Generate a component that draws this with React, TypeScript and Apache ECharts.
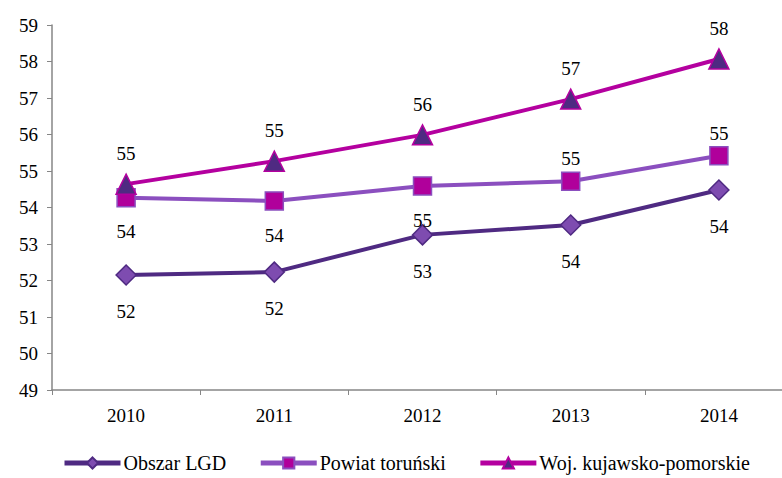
import React, { useEffect, useRef } from "react";
import * as echarts from "echarts";

const years = ["2010", "2011", "2012", "2013", "2014"];
const obszarLGD = [52.15, 52.23, 53.25, 53.52, 54.48];
const powiatTorunski = [54.27, 54.18, 54.59, 54.72, 55.42];
const wojKujawsko = [54.64, 55.27, 55.99, 56.97, 58.07];

const lgdLabelPos = ["bottom", "bottom", "bottom", "bottom", "bottom"];
const powiatLabelPos = ["bottom", "bottom", "bottom", "top", "top"];
const wojLabelPos = ["top", "top", "top", "top", "top"];

const FONT = "Times New Roman, Liberation Serif, DejaVu Serif, serif";

function buildData(values: number[], positions: string[], distTop: number, distBottom: number) {
  return values.map((v, i) => ({
    value: v,
    label: { position: positions[i], distance: positions[i] === "top" ? distTop : distBottom },
  }));
}

export default function App() {
  const ref = useRef<HTMLDivElement>(null);
  useEffect(() => {
    if (!ref.current) return;
    const chart = echarts.init(ref.current, null, { renderer: "svg" });
    const labelBase = {
      show: true,
      fontFamily: FONT,
      fontSize: 19,
      color: "#000",
      formatter: (p: any) => String(Math.round(p.value)),
    };
    chart.setOption({
      animation: false,
      textStyle: { fontFamily: FONT },
      grid: { left: 52, width: 741, top: 25, bottom: 88, outerBoundsMode: "none", containLabel: false },
      legend: {
        bottom: 0,
        left: 57,
        itemWidth: 56,
        itemHeight: 14,
        itemGap: 32,
        lineStyle: { width: 5 },
        textStyle: { fontFamily: FONT, fontSize: 20, color: "#000", padding: [0, 0, 0, -2] },
        data: ["Obszar LGD", "Powiat toruński", "Woj. kujawsko-pomorskie"],
      },
      xAxis: {
        type: "category",
        data: years,
        boundaryGap: true,
        axisLine: { lineStyle: { color: "#868686", width: 1.5 } },
        axisTick: { show: true, length: 5, alignWithLabel: false, lineStyle: { color: "#868686" } },
        axisLabel: { fontFamily: FONT, fontSize: 19, color: "#000", margin: 16 },
        splitLine: { show: false },
      },
      yAxis: {
        type: "value",
        min: 49,
        max: 59,
        interval: 1,
        axisLine: { show: true, lineStyle: { color: "#868686", width: 1.5 } },
        axisTick: { show: true, length: 5, lineStyle: { color: "#868686" } },
        axisLabel: { fontFamily: FONT, fontSize: 19, color: "#000", margin: 14 },
        splitLine: { show: false },
      },
      series: [
        {
          name: "Obszar LGD",
          type: "line",
          data: buildData(obszarLGD, lgdLabelPos, 4, 16),
          symbol: "diamond",
          symbolSize: 20,
          lineStyle: { color: "#4F2A82", width: 4 },
          itemStyle: { color: "#7E4CB0", borderColor: "#4F2A82", borderWidth: 1.5 },
          label: labelBase,
          z: 3,
        },
        {
          name: "Powiat toruński",
          type: "line",
          data: buildData(powiatTorunski, powiatLabelPos, 3, 15),
          symbol: "rect",
          symbolSize: 18,
          lineStyle: { color: "#8B4FBF", width: 4 },
          itemStyle: { color: "#B0009B", borderColor: "#8B4FBF", borderWidth: 1.5 },
          label: labelBase,
          z: 4,
        },
        {
          name: "Woj. kujawsko-pomorskie",
          type: "line",
          data: buildData(wojKujawsko, wojLabelPos, 10, 10),
          symbol: "triangle",
          symbolSize: 20,
          lineStyle: { color: "#B4009F", width: 4 },
          itemStyle: { color: "#4F2A82", borderColor: "#B4009F", borderWidth: 1.5 },
          label: labelBase,
          z: 5,
        },
      ],
    });
    return () => chart.dispose();
  }, []);
  return <div ref={ref} style={{ width: 782, height: 478, position: "absolute", left: 0, top: 0 }} />;
}
